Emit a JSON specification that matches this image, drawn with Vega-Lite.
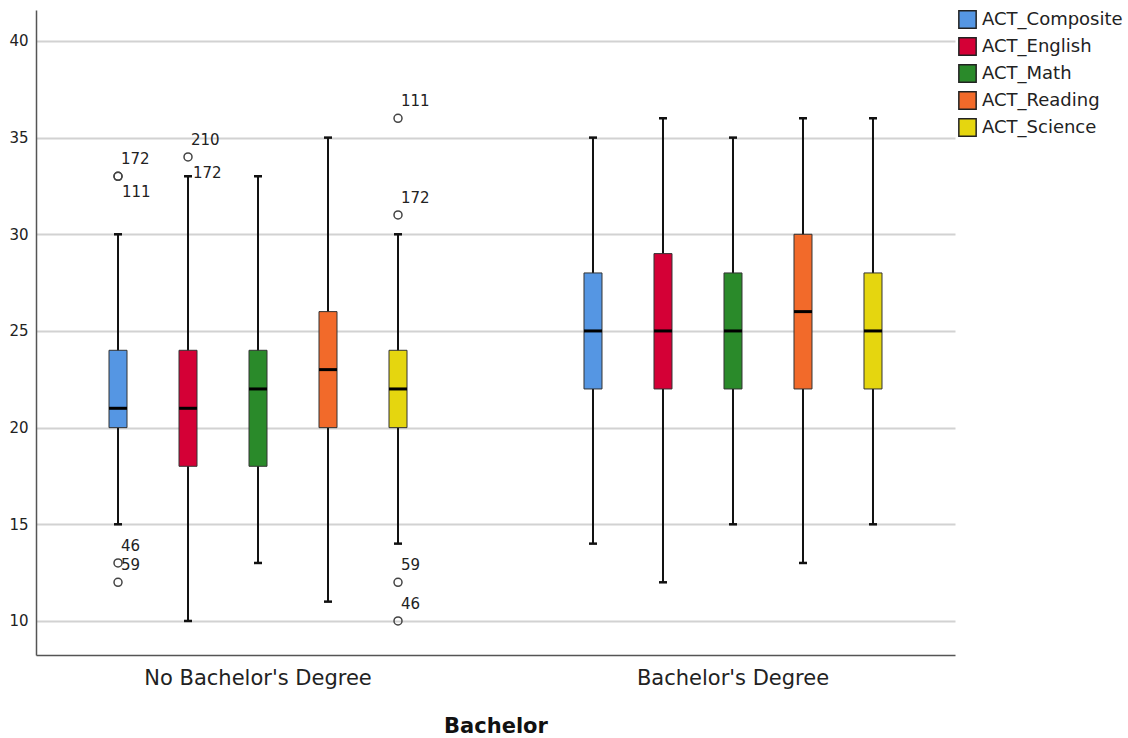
{
  "$schema": "https://vega.github.io/schema/vega-lite/v6.json",
  "width": 919,
  "height": 645,
  "autosize": {"type": "none"},
  "padding": {"left": 36, "top": 10, "right": 173, "bottom": 83},
  "background": "white",
  "config": {
    "view": {"stroke": null},
    "font": "DejaVu Sans"
  },
  "datasets": {
    "boxes": [
      {"group": "No Bachelor's Degree", "variable": "ACT_Composite", "min": 15, "q1": 20, "median": 21, "q3": 24, "max": 30},
      {"group": "No Bachelor's Degree", "variable": "ACT_English", "min": 10, "q1": 18, "median": 21, "q3": 24, "max": 33},
      {"group": "No Bachelor's Degree", "variable": "ACT_Math", "min": 13, "q1": 18, "median": 22, "q3": 24, "max": 33},
      {"group": "No Bachelor's Degree", "variable": "ACT_Reading", "min": 11, "q1": 20, "median": 23, "q3": 26, "max": 35},
      {"group": "No Bachelor's Degree", "variable": "ACT_Science", "min": 14, "q1": 20, "median": 22, "q3": 24, "max": 30},
      {"group": "Bachelor's Degree", "variable": "ACT_Composite", "min": 14, "q1": 22, "median": 25, "q3": 28, "max": 35},
      {"group": "Bachelor's Degree", "variable": "ACT_English", "min": 12, "q1": 22, "median": 25, "q3": 29, "max": 36},
      {"group": "Bachelor's Degree", "variable": "ACT_Math", "min": 15, "q1": 22, "median": 25, "q3": 28, "max": 35},
      {"group": "Bachelor's Degree", "variable": "ACT_Reading", "min": 13, "q1": 22, "median": 26, "q3": 30, "max": 36},
      {"group": "Bachelor's Degree", "variable": "ACT_Science", "min": 15, "q1": 22, "median": 25, "q3": 28, "max": 36}
    ],
    "outliers": [
      {"group": "No Bachelor's Degree", "variable": "ACT_Composite", "value": 33, "id": "172"},
      {"group": "No Bachelor's Degree", "variable": "ACT_Composite", "value": 33, "id": "111"},
      {"group": "No Bachelor's Degree", "variable": "ACT_Composite", "value": 13, "id": "46"},
      {"group": "No Bachelor's Degree", "variable": "ACT_Composite", "value": 12, "id": "59"},
      {"group": "No Bachelor's Degree", "variable": "ACT_English", "value": 34, "id": "210"},
      {"group": "No Bachelor's Degree", "variable": "ACT_Science", "value": 36, "id": "111"},
      {"group": "No Bachelor's Degree", "variable": "ACT_Science", "value": 31, "id": "172"},
      {"group": "No Bachelor's Degree", "variable": "ACT_Science", "value": 12, "id": "59"},
      {"group": "No Bachelor's Degree", "variable": "ACT_Science", "value": 10, "id": "46"}
    ],
    "labels": [
      {"group": "No Bachelor's Degree", "variable": "ACT_Composite", "value": 33, "id": "172", "pos": "above"},
      {"group": "No Bachelor's Degree", "variable": "ACT_Composite", "value": 33, "id": "111", "pos": "below"},
      {"group": "No Bachelor's Degree", "variable": "ACT_Composite", "value": 13, "id": "46", "pos": "above"},
      {"group": "No Bachelor's Degree", "variable": "ACT_Composite", "value": 12, "id": "59", "pos": "above"},
      {"group": "No Bachelor's Degree", "variable": "ACT_English", "value": 34, "id": "210", "pos": "above"},
      {"group": "No Bachelor's Degree", "variable": "ACT_English", "value": 33, "id": "172", "pos": "right"},
      {"group": "No Bachelor's Degree", "variable": "ACT_Science", "value": 36, "id": "111", "pos": "above"},
      {"group": "No Bachelor's Degree", "variable": "ACT_Science", "value": 31, "id": "172", "pos": "above"},
      {"group": "No Bachelor's Degree", "variable": "ACT_Science", "value": 12, "id": "59", "pos": "above"},
      {"group": "No Bachelor's Degree", "variable": "ACT_Science", "value": 10, "id": "46", "pos": "above"}
    ]
  },
  "encoding": {
    "x": {
      "field": "group", "type": "nominal",
      "sort": ["No Bachelor's Degree", "Bachelor's Degree"],
      "scale": {"paddingInner": 0.2, "paddingOuter": 0.0674},
      "axis": {
        "title": "Bachelor", "titleFontSize": 21, "titleFontWeight": "bold", "titleColor": "#111", "titlePadding": 27,
        "labelFontSize": 21, "labelColor": "#222", "labelAngle": 0, "labelPadding": 12, "labelLimit": 0,
        "ticks": false, "grid": false, "domainColor": "#555", "domainWidth": 1.5
      }
    },
    "xOffset": {
      "field": "variable", "type": "nominal",
      "sort": ["ACT_Composite", "ACT_English", "ACT_Math", "ACT_Reading", "ACT_Science"],
      "scale": {"paddingInner": 0.743, "paddingOuter": 0.5857}
    }
  },
  "layer": [
    {
      "data": {"name": "boxes"},
      "mark": {"type": "rule", "color": "#111", "strokeWidth": 2},
      "encoding": {
        "y": {
          "field": "min", "type": "quantitative",
          "scale": {"domain": [8.24, 41.6], "nice": false, "zero": false},
          "axis": {
            "title": null, "values": [10, 15, 20, 25, 30, 35, 40],
            "grid": true, "gridColor": "#d2d2d2", "gridWidth": 2,
            "ticks": false, "labelFontSize": 15, "labelColor": "#222", "labelPadding": 8,
            "domainColor": "#555", "domainWidth": 1.5
          }
        },
        "y2": {"field": "max"}
      }
    },
    {
      "data": {"name": "boxes"},
      "mark": {"type": "bar", "stroke": "#333", "strokeWidth": 1},
      "encoding": {
        "y": {"field": "q1", "type": "quantitative"},
        "y2": {"field": "q3"},
        "color": {
          "field": "variable", "type": "nominal",
          "scale": {
            "domain": ["ACT_Composite", "ACT_English", "ACT_Math", "ACT_Reading", "ACT_Science"],
            "range": ["#5596e3", "#d40036", "#2a8a2a", "#f26a2a", "#e5d60f"]
          },
          "legend": {
            "title": null, "orient": "right", "offset": 3,
            "symbolType": "square", "symbolSize": 300, "symbolStrokeColor": "#222", "symbolStrokeWidth": 1.5, "symbolOpacity": 1,
            "labelFontSize": 18, "labelColor": "#222", "labelOffset": 5, "rowPadding": 2, "labelLimit": 200
          }
        }
      }
    },
    {
      "data": {"name": "boxes"},
      "mark": {"type": "tick", "color": "#000", "size": 18, "thickness": 3, "opacity": 1},
      "encoding": {"y": {"field": "median", "type": "quantitative"}}
    },
    {
      "data": {"name": "boxes"},
      "mark": {"type": "tick", "color": "#111", "size": 8, "thickness": 2.5, "opacity": 1},
      "encoding": {"y": {"field": "min", "type": "quantitative"}}
    },
    {
      "data": {"name": "boxes"},
      "mark": {"type": "tick", "color": "#111", "size": 8, "thickness": 2.5, "opacity": 1},
      "encoding": {"y": {"field": "max", "type": "quantitative"}}
    },
    {
      "data": {"name": "outliers"},
      "mark": {"type": "point", "shape": "circle", "size": 64, "filled": false, "stroke": "#444", "strokeWidth": 1.5, "opacity": 1},
      "encoding": {"y": {"field": "value", "type": "quantitative"}}
    },
    {
      "data": {"name": "labels"},
      "transform": [{"filter": "datum.pos === 'above'"}],
      "mark": {"type": "text", "align": "left", "baseline": "middle", "dx": 3, "dy": -17, "fontSize": 15, "color": "#222"},
      "encoding": {"y": {"field": "value", "type": "quantitative"}, "text": {"field": "id"}}
    },
    {
      "data": {"name": "labels"},
      "transform": [{"filter": "datum.pos === 'below'"}],
      "mark": {"type": "text", "align": "left", "baseline": "middle", "dx": 4, "dy": 16, "fontSize": 15, "color": "#222"},
      "encoding": {"y": {"field": "value", "type": "quantitative"}, "text": {"field": "id"}}
    },
    {
      "data": {"name": "labels"},
      "transform": [{"filter": "datum.pos === 'right'"}],
      "mark": {"type": "text", "align": "left", "baseline": "middle", "dx": 5, "dy": -3, "fontSize": 15, "color": "#222"},
      "encoding": {"y": {"field": "value", "type": "quantitative"}, "text": {"field": "id"}}
    }
  ]
}
